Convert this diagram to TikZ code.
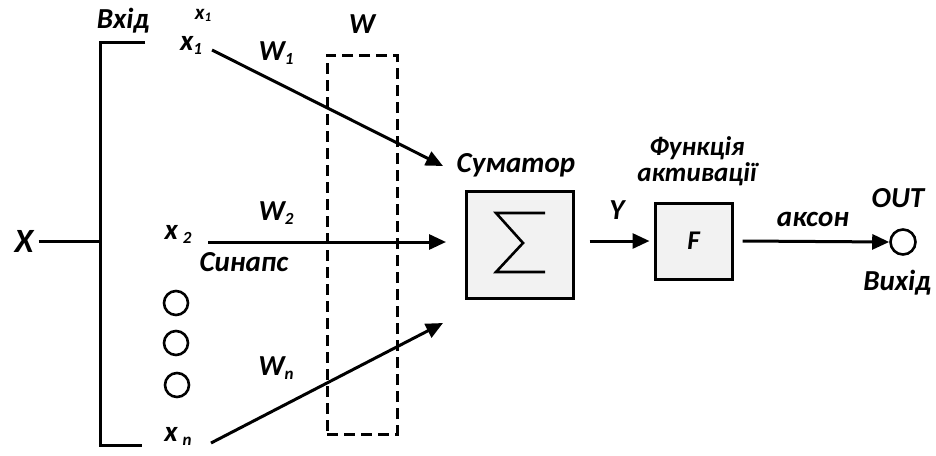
\documentclass[tikz,border=0pt]{standalone}
\usepackage{fontspec}
\setmainfont{Carlito}
\usetikzlibrary{arrows.meta}
\newcommand{\sbs}[1]{\raisebox{-4pt}{\fontsize{17}{17}\selectfont #1}}
\begin{document}
\begin{tikzpicture}[x=1pt,y=-1pt,
  lab/.style={font=\fontsize{29}{29}\selectfont\bfseries\itshape, inner sep=0pt},
  ln/.style={line width=3pt},
  arr/.style={line width=3pt,-{Triangle[length=17pt,width=15pt]}},
  blk/.style={draw, line width=3pt, fill=black!5, inner sep=0pt},
  dot/.style={circle, draw, line width=2.6pt, minimum size=24pt, inner sep=0pt}
]
\useasboundingbox (0,0) rectangle (936,455);

% input bracket
\node[lab, font=\fontsize{34}{34}\selectfont\bfseries\itshape] (X) at (24,241) {X};
\coordinate (bt) at (100,42);
\coordinate (bm) at (100,241);
\coordinate (bb) at (100,445);
\coordinate (btr) at (145,42);
\coordinate (bbr) at (142,445);
\draw[ln] (btr) -- (bt) -- (bb) -- (bbr);
\draw[ln] (X.east) ++(5,0) coordinate (xs) (xs) -- (bm);
\node[lab] (vhid) at (123,21) {Вхід};

% inputs
\node[lab, font=\fontsize{21}{21}\selectfont\bfseries\itshape] (x1s) at (203,15) {x\raisebox{-2pt}{\fontsize{13}{13}\selectfont 1}};
\node[lab] (x1) at (191,45) {x\sbs{1}};
\node[lab] (x2) at (178,234) {x\,\sbs{2}};
\node[lab] (xn) at (178,436) {x\,\sbs{n}};
\node[dot] (c1) at (176,303) {};
\node[dot] (c2) at (176,343) {};
\node[dot] (c3) at (177,385) {};

% weights box
\node[draw, line width=3pt, dash pattern=on 11pt off 6pt, minimum width=70pt, minimum height=379pt, inner sep=0pt] (wbox) at (362,244.5) {};
\node[lab] (W) at (362,24) {W};

% arrows to summator
\coordinate (s1) at (212,50);
\coordinate (t1) at (443,166);
\coordinate (s2) at (208,242);
\coordinate (t2) at (446,242);
\coordinate (sn) at (211,443);
\coordinate (tn) at (443,323);
\draw[arr] (s1) -- (t1);
\draw[arr] (s2) -- (t2);
\draw[arr] (sn) -- (tn);
\node[lab] (W1) at (276,53) {W\sbs{1}};
\node[lab] (W2) at (276,213) {W\sbs{2}};
\node[lab] (Wn) at (276,368) {W\sbs{n}};
\node[lab] (syn) at (244,262) {Синапс};

% summator
\node[blk, minimum width=107pt, minimum height=107pt] (sum) at (519.5,244.5) {};
\draw[line width=2.6pt, line join=miter, miter limit=10] (545,213) -- (496,213) -- (523,243) -- (496,272) -- (545,272);
\node[lab] (sumlab) at (516,165) {Суматор};

% activation
\node[blk, minimum width=77pt, minimum height=76pt, font=\fontsize{27}{27}\selectfont\bfseries\itshape] (F) at (693.5,241) {F};
\node[lab, font=\fontsize{27}{27}\selectfont\bfseries\itshape] (flab1) at (697,148) {Функція};
\node[lab, font=\fontsize{27}{27}\selectfont\bfseries\itshape, anchor=base] (flab2) at (697,181) {активації};
\draw[arr] ([xshift=15pt]sum.east |- F.west) coordinate (ys) -- ([xshift=-4pt]F.west);
\node[lab] (Y) at (617,210) {Y};

% output
\node[dot, minimum size=25pt] (out) at (903,242) {};
\draw[arr] ([xshift=9pt]F.east) -- (out.west);
\node[lab] (akson) at (813,219) {аксон};
\node[lab] (OUT) at (898,198) {OUT};
\node[lab] (vyh) at (897,283) {Вихід};
\end{tikzpicture}
\end{document}
